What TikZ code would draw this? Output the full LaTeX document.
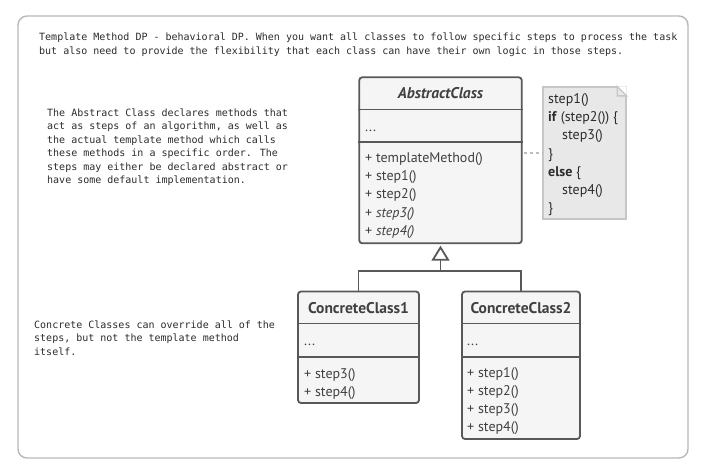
\documentclass[tikz,border=0pt]{standalone}
\usepackage{fontspec}
\usepackage{tikz}
\usetikzlibrary{arrows.meta}
\newfontfamily\umlfont{PT Sans}
\newfontfamily\memofont{DejaVu Sans Mono}

\definecolor{framegray}{HTML}{B8B8B8}
\definecolor{boxline}{HTML}{585858}
\definecolor{boxfill}{HTML}{F5F5F5}
\definecolor{umltext}{HTML}{404040}
\definecolor{notefill}{HTML}{E8E8E8}
\definecolor{notedraw}{HTML}{C6C6C6}
\definecolor{connline}{HTML}{BDBDBD}
\definecolor{memotext}{HTML}{2B2B2B}

\tikzset{
    frame/.style={draw=framegray, line width=1.4pt, rounded corners=9pt},
    classbox/.style={draw=boxline, fill=boxfill, line width=1.8pt, rounded corners=3pt, inner sep=0pt},
    sepline/.style={draw=boxline, line width=1.8pt},
    classtitle/.style={font=\umlfont\bfseries\fontsize{15.5}{18}\selectfont, text=umltext, inner sep=0pt},
    member/.style={font=\umlfont\fontsize{14}{17}\selectfont, text=umltext, inner sep=0pt, anchor=base west},
    memo/.style={font=\memofont\fontsize{10}{13}\selectfont, text=memotext, inner sep=0pt, anchor=base west},
    notebox/.style={draw=notedraw, fill=notefill, line width=1.3pt, inner sep=0pt},
    noteline/.style={font=\umlfont\fontsize{14}{17}\selectfont, text=memotext, inner sep=0pt, anchor=base west},
    inherit/.style={draw=boxline, line width=1.8pt},
    noteconn/.style={draw=connline, line width=1.3pt, dash pattern=on 3pt off 3pt},
}

\begin{document}
\begin{tikzpicture}[x=1pt, y=-1pt]
    \useasboundingbox (0,0) rectangle (704,475);
    \draw[frame] (18,16) rectangle (688,458);

    % texts on the left
    \node[memo] (head1) at (39,40.5) {Template Method DP - behavioral DP. When you want all classes to follow specific steps to process the task};
    \node[memo] (head2) at (39,54.5) {but also need to provide the flexibility that each class can have their own logic in those steps.};
    \foreach \txt [count=\i] in {The Abstract Class declares methods that, act as steps of an algorithm{,} as well as,
        the actual template method which calls, these methods in a specific order. The,
        steps may either be declared abstract or, have some default implementation.}
        \node[memo] (absmemo\i) at (47,{103+13.45*\i}) {\txt};
    \foreach \txt [count=\i] in {Concrete Classes can override all of the, steps{,} but not the template method, itself.}
        \node[memo] (concmemo\i) at (34,{315+13.45*\i}) {\txt};

    % abstract class
    \node[classbox, minimum width=162.5, minimum height=166] (abstract) at (440.5,160.3) {};
    \draw[sepline] (abstract.west |- 0,109.5) -- (abstract.east |- 0,109.5);
    \draw[sepline] (abstract.west |- 0,141.7) -- (abstract.east |- 0,141.7);
    \node[classtitle, font=\umlfont\bfseries\itshape\fontsize{15.5}{18}\selectfont] (abstitle) at (440.5,93) {AbstractClass};
    \node[member] (absdots) at (365,131) {...};
    \foreach \txt [count=\i] in {+ templateMethod(), + step1(), + step2(), + {\itshape step3()}, + {\itshape step4()}}
        \node[member] (absm\i) at (365,{144.3+18.2*\i}) {\txt};

    % note
    \node[notebox, minimum width=83, minimum height=132] (note) at (584.5,153) {};
    \fill[white] (note.north east) -- ([xshift=-9.5pt]note.north east) -- ([yshift=-9.5pt]note.north east) -- cycle;
    \draw[notebox] ([xshift=-9.5pt]note.north east) -- ([yshift=-9.5pt]note.north east) -- ([xshift=-9.5pt, yshift=-9.5pt]note.north east) -- cycle;
    \foreach \txt/\xx [count=\i] in {step1()/548, \textbf{if} (step2()) \{/548, step3()/562, \}/548,
        \textbf{else} \{/548, step4()/562, \}/548}
        \node[noteline] (notel\i) at (\xx,{85.3+18.2*\i}) {\txt};
    \draw[noteconn, shorten <=1pt] (abstract.east |- note.west) -- (note.west);

    % concrete classes
    \node[classbox, minimum width=121, minimum height=111.5] (conc1) at (358.5,347.25) {};
    \draw[sepline] (conc1.west |- 0,323.5) -- (conc1.east |- 0,323.5);
    \draw[sepline] (conc1.west |- 0,357) -- (conc1.east |- 0,357);
    \node[classtitle] (conc1title) at (358.5,308) {ConcreteClass1};
    \node[member] (conc1dots) at (304,345) {...};
    \foreach \txt [count=\i] in {+ step3(), + step4()}
        \node[member] (conc1m\i) at (304,{360+18.2*\i}) {\txt};

    \node[classbox, minimum width=118, minimum height=147.5] (conc2) at (521,365.25) {};
    \draw[sepline] (conc2.west |- 0,323.5) -- (conc2.east |- 0,323.5);
    \draw[sepline] (conc2.west |- 0,357) -- (conc2.east |- 0,357);
    \node[classtitle] (conc2title) at (521,308) {ConcreteClass2};
    \node[member] (conc2dots) at (467,345) {...};
    \foreach \txt [count=\i] in {+ step1(), + step2(), + step3(), + step4()}
        \node[member] (conc2m\i) at (467,{359+18.2*\i}) {\txt};

    % inheritance
    \coordinate (joint) at (440.5,271);
    \draw[inherit] (conc1.north) |- (joint);
    \draw[inherit] (conc2.north) |- (joint);
    \draw[inherit, shorten >=1.5pt, -{Triangle[open, fill=white, width=18pt, length=15pt]}] (joint) -- (abstract.south);
\end{tikzpicture}
\end{document}
